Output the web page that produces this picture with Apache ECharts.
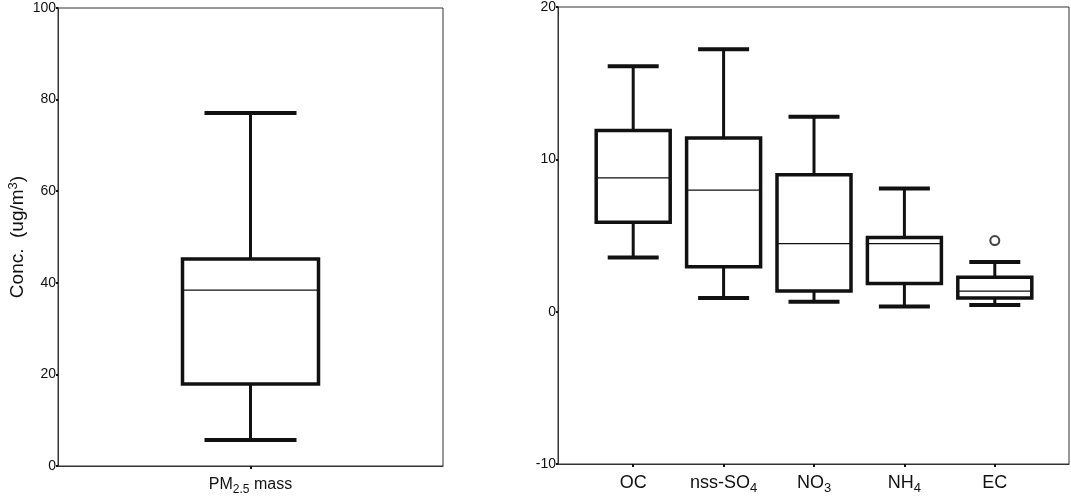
<!DOCTYPE html>
<html><head><meta charset="utf-8">
<script src="https://cdn.jsdelivr.net/npm/echarts@6/dist/echarts.min.js"></script>
<style>html,body{margin:0;padding:0;background:#fff}#c{width:1071px;height:502px}</style>
</head><body><div id="c"></div>
<script>
// ---- data ----
const pmCategories = ['PM{sub|2.5} mass'];
// [min, Q1, median, Q3, max]
const pmStats = [[5.7, 17.9, 38.4, 45.2, 77.1]];
const pmTicks = [0, 20, 40, 60, 80, 100];

const ionCategories = ['OC', 'nss-SO{sub|4}', 'NO{sub|3}', 'NH{sub|4}', 'EC'];
const ionStats = [
  [3.5, 5.8, 8.7, 11.8, 16.0],
  [0.85, 2.9, 7.9, 11.3, 17.1],
  [0.6, 1.3, 4.4, 8.9, 12.7],
  [0.3, 1.8, 4.4, 4.8, 8.0],
  [0.4, 0.85, 1.3, 2.2, 3.2]
];
const ionOutliers = [[4, 4.6]];
const ionTicks = [-10, 0, 10, 20];

const yName = 'Conc.  (ug/m{sup|3})';

// ---- rendering ----
const INK = '#111';
const FRAME = '#333';
const FONT = 'Liberation Sans, Arial, sans-serif';

function boxRenderer(boxW, capW, boxLW) {
  return function (params, api) {
    const idx = api.value(0);
    const p = [1, 2, 3, 4, 5].map(d => api.coord([idx, api.value(d)]));
    const cx = p[0][0];
    const yMin = p[0][1], yQ1 = p[1][1], yMed = p[2][1], yQ3 = p[3][1], yMax = p[4][1];
    const ln = (x1, y1, x2, y2, w) => ({
      type: 'line', shape: { x1, y1, x2, y2 }, style: { stroke: INK, lineWidth: w }
    });
    return {
      type: 'group',
      children: [
        ln(cx, yQ3, cx, yMax, 3),
        ln(cx, yQ1, cx, yMin, 3),
        ln(cx - capW / 2, yMax, cx + capW / 2, yMax, 4),
        ln(cx - capW / 2, yMin, cx + capW / 2, yMin, 4),
        { type: 'rect', shape: { x: cx - boxW / 2, y: yQ3, width: boxW, height: yQ1 - yQ3 },
          style: { fill: '#fff', stroke: INK, lineWidth: boxLW } },
        ln(cx - boxW / 2, yMed, cx + boxW / 2, yMed, 1.2)
      ]
    };
  };
}

const tickLabel = { fontSize: 14, fontFamily: FONT, color: INK, margin: 2 };
const tickStyle = { show: true, length: 2, lineStyle: { color: INK, width: 2 } };

const option = {
  animation: false,
  backgroundColor: '#fff',
  grid: [
    { left: 58, top: 8, width: 385, height: 458, show: true, borderColor: FRAME, borderWidth: 1 },
    { left: 558, top: 5, width: 511, height: 459, show: true, borderColor: FRAME, borderWidth: 1 },
    { left: 588, top: 5, width: 452, height: 459, show: false }
  ],
  xAxis: [
    { gridIndex: 0, type: 'category', data: pmCategories,
      axisLine: { onZero: false, lineStyle: { color: FRAME, width: 1 } },
      axisTick: { show: true, alignWithLabel: true, length: 3, lineStyle: { color: INK, width: 2 } },
      axisLabel: { interval: 0, fontSize: 16, fontFamily: FONT, color: INK, margin: 8, lineHeight: 22,
        rich: { sub: { fontSize: 12, fontFamily: FONT, color: INK, lineHeight: 12, verticalAlign: 'bottom' } } }
    },
    { gridIndex: 1, type: 'value', min: 0, max: 1,
      axisLine: { show: true, onZero: false, lineStyle: { color: FRAME, width: 1 } },
      axisTick: { show: false }, axisLabel: { show: false }, splitLine: { show: false }
    },
    { gridIndex: 2, type: 'category', data: ionCategories,
      axisLine: { show: false, onZero: false },
      axisTick: { show: true, alignWithLabel: true, interval: 0, length: 3, lineStyle: { color: INK, width: 2 } },
      axisLabel: { interval: 0, fontSize: 18, fontFamily: FONT, color: INK, margin: 7, lineHeight: 24,
        rich: { sub: { fontSize: 13, fontFamily: FONT, color: INK, lineHeight: 13, verticalAlign: 'bottom' } } }
    }
  ],
  yAxis: [
    { gridIndex: 0, type: 'value', min: pmTicks[0], max: pmTicks[pmTicks.length - 1],
      interval: pmTicks[1] - pmTicks[0],
      axisLine: { show: true, lineStyle: { color: FRAME, width: 1 } },
      axisTick: tickStyle, axisLabel: tickLabel, splitLine: { show: false },
      name: yName, nameLocation: 'middle', nameRotate: 90, nameGap: 26,
      nameTextStyle: { fontSize: 19, fontFamily: FONT, color: INK, lineHeight: 22,
        rich: { sup: { fontSize: 13, fontFamily: FONT, color: INK, lineHeight: 12, verticalAlign: 'top' } } }
    },
    { gridIndex: 1, type: 'value', min: ionTicks[0], max: ionTicks[ionTicks.length - 1],
      interval: ionTicks[1] - ionTicks[0],
      axisLine: { show: true, lineStyle: { color: FRAME, width: 1 } },
      axisTick: tickStyle, axisLabel: tickLabel, splitLine: { show: false }
    },
    { gridIndex: 2, type: 'value', min: ionTicks[0], max: ionTicks[ionTicks.length - 1],
      interval: ionTicks[1] - ionTicks[0], show: false, splitLine: { show: false }
    }
  ],
  series: [
    { type: 'custom', xAxisIndex: 0, yAxisIndex: 0,
      renderItem: boxRenderer(136, 92, 3.5),
      encode: { x: 0, y: [1, 2, 3, 4, 5] },
      data: pmStats.map((s, i) => [i].concat(s)) },
    { type: 'custom', xAxisIndex: 2, yAxisIndex: 2,
      renderItem: boxRenderer(74, 51, 3.5),
      encode: { x: 0, y: [1, 2, 3, 4, 5] },
      data: ionStats.map((s, i) => [i].concat(s)) },
    { type: 'scatter', xAxisIndex: 2, yAxisIndex: 2,
      symbol: 'emptyCircle', symbolSize: 9, z: 5,
      itemStyle: { color: INK, borderColor: INK, borderWidth: 1.3 },
      data: ionOutliers }
  ]
};

const chart = echarts.init(document.getElementById('c'), null, { renderer: 'canvas' });
chart.setOption(option);
</script>
</body></html>
